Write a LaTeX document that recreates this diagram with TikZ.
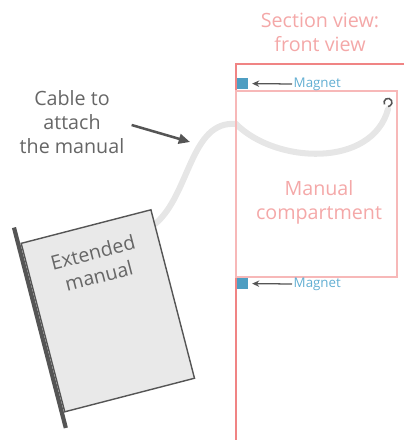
\documentclass[tikz,border=0pt]{standalone}
\usepackage{fontspec}
\setmainfont{Open Sans}
\usetikzlibrary{arrows.meta,positioning,calc}

\definecolor{wallred}{HTML}{F08484}
\definecolor{comppink}{HTML}{F7B8B8}
\definecolor{labelpink}{HTML}{F4A8A8}
\definecolor{magblue}{HTML}{4E9EC2}
\definecolor{magtext}{HTML}{62AED2}
\definecolor{inkgray}{HTML}{555555}
\definecolor{textgray}{HTML}{666666}
\definecolor{cablegray}{HTML}{E6E6E6}
\definecolor{bookfill}{HTML}{E9E9E9}

\begin{document}
\begin{tikzpicture}[>=Stealth,
 pinktext/.style={text=labelpink,align=center,font=\fontsize{14}{17}\selectfont},
 note/.style={text=textgray,align=center,font=\fontsize{14}{17}\selectfont},
 magnet/.style={fill=magblue,minimum size=0.275cm,inner sep=0pt},
 maglabel/.style={text=magtext,anchor=west,inner sep=1pt,font=\fontsize{9.5}{11}\selectfont},
 magarrow/.style={-{Stealth[length=5pt,width=4.5pt]},inkgray,line width=0.9pt}]
\useasboundingbox (0,0) rectangle (10.1,-11);
% wall of the housing, open where the compartment sits
\draw[wallred,line width=1.4pt] (10.1,-1.6) -- (5.9,-1.6) -- (5.9,-2.275);
\draw[wallred,line width=1.4pt] (5.9,-6.925) -- (5.9,-11);
\node[pinktext] (title) at (8.0,-0.8) {Section view:\\front view};
% cable from the manual to the hook
\coordinate (cablestart) at (3.875,-5.6);
\coordinate (hook) at (9.7,-2.56);
\coordinate (cablept) at (4.75,-3.55);
\draw[cablegray,line width=4.3pt,line cap=round] (cablestart)
 .. controls (4.75,-4.875) and (4.75,-3.0) .. (5.9,-3.1)
 .. controls (6.9,-4.1) and (9.3,-4.2) .. ([yshift=-0.17cm]hook);
\node[draw=comppink,line width=1pt,minimum width=4.025cm,minimum height=4.65cm,inner sep=0pt] (comp) at (7.9125,-4.6) {};
\node[pinktext] (complabel) at (7.975,-5.05) {Manual\\compartment};
\draw[inkgray,line width=1.1pt] (hook) ++(210:0.1) arc[start angle=210,end angle=-90,radius=0.1];
% magnets
\node[magnet] (mag1) at (6.06,-2.09) {};
\node[magnet] (mag2) at (6.06,-7.09) {};
\node[maglabel] (maglbl1) at (7.3,-2.1) {Magnet};
\node[maglabel] (maglbl2) at (7.3,-7.1) {Magnet};
\draw[magarrow] (maglbl1.west) -- ([xshift=0.1cm]mag1.east);
\draw[magarrow] (maglbl2.west) -- ([xshift=0.1cm]mag2.east);
% the manual
\node[draw=inkgray,fill=bookfill,line width=1pt,minimum width=3.35cm,minimum height=4.35cm,rotate=14.5] (book) at (2.696,-7.77) {};
\draw[inkgray,line width=3pt] ([xshift=-0.06cm]$(book.north west)!-0.09!(book.south west)$) -- ([xshift=-0.06cm]$(book.south west)!-0.09!(book.north west)$);
\node[note,rotate=14.5] (booklbl) at ($(book.center)!0.55!(book.north)$) {Extended\\manual};
\node[note] (cablelbl) at (1.8,-3.05) {Cable to\\attach\\the manual};
\draw[-{Triangle[length=8pt,width=7pt]},inkgray,line width=1.8pt] ([shift={(0.06,-0.075)}]cablelbl.east) -- (cablept);
\end{tikzpicture}
\end{document}
